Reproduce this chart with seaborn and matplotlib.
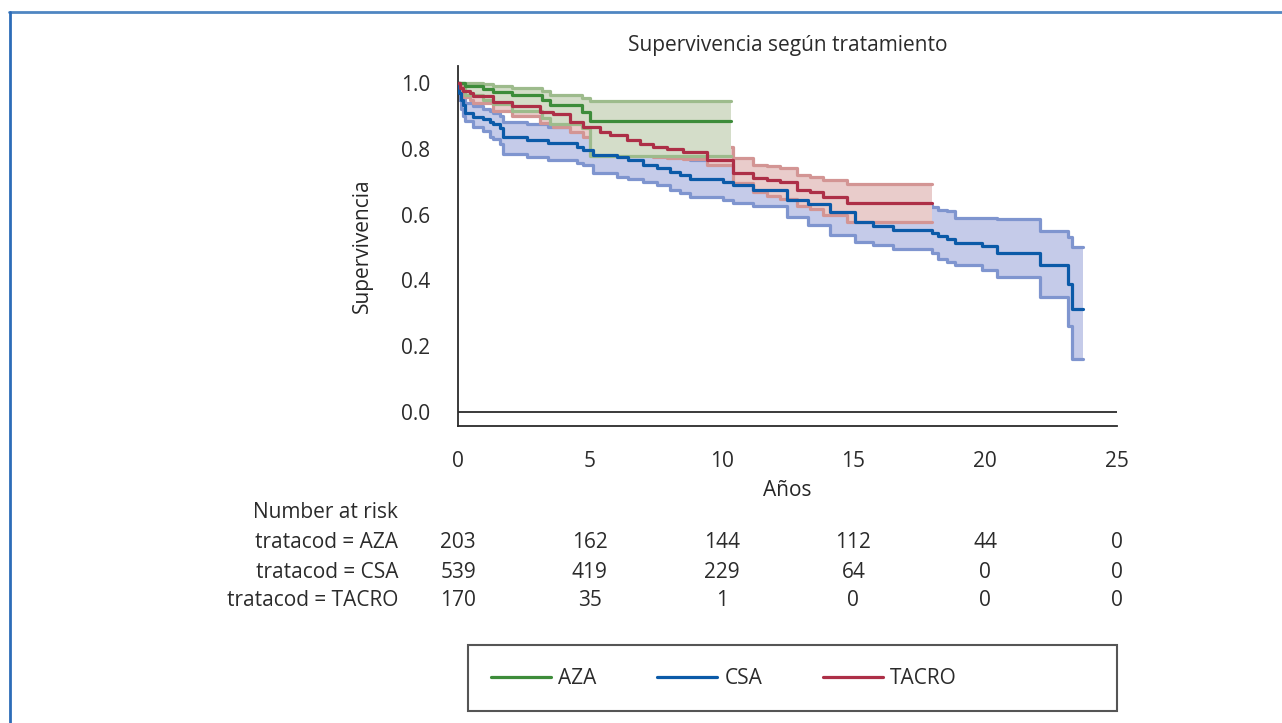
import numpy as np
import pandas as pd
import matplotlib.pyplot as plt
import matplotlib.transforms as mtransforms
from matplotlib.lines import Line2D
from matplotlib.patches import Rectangle
import seaborn as sns


GROUPS = ["AZA", "CSA", "TACRO"]

# Kaplan-Meier steps (years, survival, lower CI, upper CI)
AZA_T = [0, 0.27, 0.96, 1.34, 2.04, 3.17, 3.49, 4.7, 5.0]
AZA_S = [1.0, 0.99, 0.982, 0.973, 0.964, 0.948, 0.933, 0.913, 0.885]
AZA_LO = [1.0, 0.965, 0.95, 0.935, 0.915, 0.895, 0.877, 0.862, 0.779]
AZA_HI = [1.0, 1.0, 0.996, 0.99, 0.984, 0.975, 0.965, 0.955, 0.946]
AZA_END = 10.35

CSA_T = [0, 0.02, 0.1, 0.2, 0.27, 0.58, 0.96, 1.21, 1.34, 1.59, 1.72, 2.6, 3.43, 4.5,
         4.75, 5.13, 6.02, 6.46, 7.03, 7.54, 8.04, 8.42, 8.8, 10.07, 10.45, 11.2, 12.47,
         13.29, 14.11, 15.06, 15.76, 16.51, 17.97, 18.22, 18.54, 18.85, 19.86, 20.44,
         22.08, 23.15, 23.28]
CSA_S = [1.0, 0.97, 0.95, 0.933, 0.908, 0.898, 0.89, 0.882, 0.877, 0.865, 0.835, 0.827,
         0.817, 0.806, 0.796, 0.781, 0.776, 0.766, 0.75, 0.742, 0.73, 0.72, 0.707, 0.698,
         0.69, 0.675, 0.644, 0.632, 0.609, 0.578, 0.565, 0.553, 0.545, 0.535, 0.525,
         0.513, 0.505, 0.484, 0.447, 0.389, 0.312]
CSA_LO = [1.0, 0.95, 0.92, 0.9, 0.885, 0.867, 0.855, 0.837, 0.83, 0.815, 0.784, 0.776,
          0.766, 0.758, 0.75, 0.727, 0.715, 0.708, 0.7, 0.69, 0.675, 0.665, 0.654, 0.644,
          0.635, 0.625, 0.594, 0.568, 0.538, 0.518, 0.507, 0.497, 0.482, 0.466, 0.457,
          0.447, 0.432, 0.411, 0.35, 0.261, 0.16]
CSA_HI = [1.0, 0.99, 0.975, 0.962, 0.94, 0.93, 0.922, 0.915, 0.91, 0.9, 0.882, 0.875,
          0.868, 0.858, 0.85, 0.835, 0.83, 0.822, 0.808, 0.8, 0.79, 0.778, 0.767, 0.755,
          0.745, 0.73, 0.7, 0.69, 0.672, 0.65, 0.638, 0.628, 0.622, 0.614, 0.61, 0.59,
          0.59, 0.587, 0.551, 0.533, 0.502]
CSA_END = 23.72

TACRO_T = [0, 0.08, 0.2, 0.46, 0.58, 1.34, 2.04, 3.11, 3.62, 4.25, 4.75, 5.39, 5.77,
           6.4, 6.9, 7.41, 7.92, 8.55, 9.43, 10.45, 11.2, 11.71, 12.21, 12.85, 13.35,
           13.86, 14.74]
TACRO_S = [1.0, 0.985, 0.975, 0.969, 0.96, 0.943, 0.93, 0.913, 0.905, 0.882, 0.867,
           0.852, 0.842, 0.827, 0.815, 0.806, 0.8, 0.791, 0.765, 0.727, 0.71, 0.705,
           0.698, 0.675, 0.668, 0.654, 0.636]
TACRO_LO = [1.0, 0.97, 0.957, 0.949, 0.938, 0.915, 0.9, 0.88, 0.868, 0.852, 0.835,
            0.822, 0.81, 0.796, 0.785, 0.775, 0.772, 0.77, 0.75, 0.695, 0.668, 0.658,
            0.648, 0.625, 0.617, 0.6, 0.578]
TACRO_HI = [1.0, 0.995, 0.99, 0.985, 0.978, 0.965, 0.955, 0.94, 0.935, 0.915, 0.9,
            0.888, 0.878, 0.865, 0.855, 0.846, 0.84, 0.832, 0.805, 0.771, 0.752, 0.748,
            0.742, 0.722, 0.716, 0.705, 0.693]
TACRO_END = 17.97

RISK_TIMES = [0, 5, 10, 15, 20, 25]
RISK_LABELS = ["tratacod = AZA", "tratacod = CSA", "tratacod = TACRO"]
RISK_AZA = [203, 162, 144, 112, 44, 0]
RISK_CSA = [539, 419, 229, 64, 0, 0]
RISK_TACRO = [170, 35, 1, 0, 0, 0]

X_TICKS = [0, 5, 10, 15, 20, 25]
Y_TICKS = [0.0, 0.2, 0.4, 0.6, 0.8, 1.0]

LINE_COLORS = {"AZA": "#3d8c3a", "CSA": "#0b5aa8", "TACRO": "#ad2f47"}
FILL_COLORS = {"AZA": "#d4ddc9", "CSA": "#c5cbe9", "TACRO": "#e9cccb"}
EDGE_COLORS = {"AZA": "#9dbb8c", "CSA": "#7f95cf", "TACRO": "#d39594"}
INK = "#2b2b2b"
FS = 15


def build_frame():
    parts = []
    series = [
        ("AZA", AZA_T, AZA_S, AZA_LO, AZA_HI, AZA_END),
        ("CSA", CSA_T, CSA_S, CSA_LO, CSA_HI, CSA_END),
        ("TACRO", TACRO_T, TACRO_S, TACRO_LO, TACRO_HI, TACRO_END),
    ]
    for name, t, s, lo, hi, end in series:
        parts.append(pd.DataFrame({
            "group": name,
            "t": list(t) + [end],
            "surv": list(s) + [s[-1]],
            "lo": list(lo) + [lo[-1]],
            "hi": list(hi) + [hi[-1]],
        }))
    return pd.concat(parts, ignore_index=True)


def main():
    df = build_frame()

    sns.set_style("white")
    plt.rcParams["font.family"] = ["Open Sans", "DejaVu Sans"]
    plt.rcParams["text.color"] = INK

    fig = plt.figure(figsize=(12.82, 7.23), dpi=100)
    ax = fig.add_axes([458 / 1282, 1 - 426 / 723, 659 / 1282, 360 / 723])

    # confidence bands: CSA at the back, AZA in front
    for g in ["CSA", "TACRO", "AZA"]:
        sub = df[df["group"] == g]
        ax.fill_between(sub["t"], sub["lo"], sub["hi"], step="post",
                        color=FILL_COLORS[g], lw=0, zorder=1)
        ax.step(sub["t"], sub["lo"], where="post", color=EDGE_COLORS[g], lw=2.3, zorder=1)
        ax.step(sub["t"], sub["hi"], where="post", color=EDGE_COLORS[g], lw=2.3, zorder=1)

    sns.lineplot(data=df, x="t", y="surv", hue="group", hue_order=GROUPS,
                 palette=LINE_COLORS, estimator=None, sort=False,
                 drawstyle="steps-post", lw=2.3, legend=False, ax=ax, zorder=3)

    ax.axhline(0, color=INK, lw=1.3, zorder=4)

    ax.set_xlim(0, 25)
    ax.set_ylim(-0.0426, 1.052)
    ax.set_xticks(X_TICKS)
    ax.set_yticks(Y_TICKS)
    ax.set_yticklabels([f"{v:.1f}" for v in Y_TICKS])
    for side in ["top", "right"]:
        ax.spines[side].set_visible(False)
    for side in ["left", "bottom"]:
        ax.spines[side].set_color(INK)
        ax.spines[side].set_linewidth(1.3)
    ax.tick_params(axis="x", direction="in", length=10, width=1.3, pad=18,
                   labelsize=FS, colors=INK)
    ax.tick_params(axis="y", direction="out", length=10, width=1.3, pad=10,
                   labelsize=FS, colors=INK)
    ax.set_xlabel("Años", fontsize=FS, labelpad=6)
    ax.set_ylabel("Supervivencia", fontsize=FS, labelpad=20)
    ax.set_title("Supervivencia según tratamiento", fontsize=FS, pad=11)

    # number at risk table under the axis
    trans = mtransforms.blended_transform_factory(ax.transData, fig.transFigure)
    row_y = [1 - 542 / 723, 1 - 572 / 723, 1 - 601 / 723]
    fig.text(398 / 1282, 1 - 512 / 723, "Number at risk", ha="right", va="center", fontsize=FS)
    for label, counts, y in zip(RISK_LABELS, [RISK_AZA, RISK_CSA, RISK_TACRO], row_y):
        fig.text(398 / 1282, y, label, ha="right", va="center", fontsize=FS)
        for x, n in zip(RISK_TIMES, counts):
            ax.text(x, y, str(n), transform=trans, ha="center", va="center",
                    fontsize=FS, clip_on=False)

    # legend: entries packed to the left inside a wide box
    handles = [Line2D([], [], color=LINE_COLORS[g], lw=2.3) for g in GROUPS]
    fig.legend(handles, GROUPS, loc="center left",
               bbox_to_anchor=(491 / 1282, 1 - 679 / 723), ncol=3, frameon=False,
               fontsize=FS, handlelength=2.9, handletextpad=0.33, columnspacing=2.9,
               borderpad=0, borderaxespad=0)
    fig.add_artist(Rectangle((468 / 1282, 1 - 711 / 723), 649 / 1282, 66 / 723,
                             transform=fig.transFigure, fill=False,
                             edgecolor="#555555", lw=1.5))

    # blue frame of the figure panel
    fig.add_artist(Line2D([9 / 1282, 1], [1 - 12 / 723, 1 - 12 / 723],
                          transform=fig.transFigure, color="#4f86c2", lw=2))
    fig.add_artist(Line2D([9.5 / 1282, 9.5 / 1282], [0, 1 - 12 / 723],
                          transform=fig.transFigure, color="#2d6cb8", lw=2))

    fig.savefig("out.png", dpi=100, facecolor="white")


if __name__ == "__main__":
    main()
